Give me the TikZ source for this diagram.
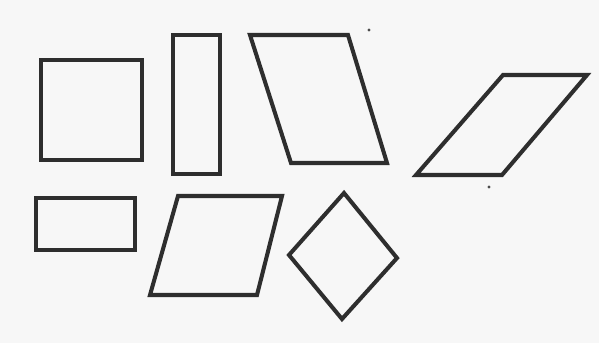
\documentclass[tikz,border=0pt]{standalone}
\usepackage{tikz}

\begin{document}
\begin{tikzpicture}[x=0.02cm,y=-0.02cm,
  outline/.style={draw=black!82,line width=2.3pt},
  speck/.style={fill=black!70}]
\fill[black!3] (0,0) rectangle (599,343);
\useasboundingbox (0,0) rectangle (599,343);

% top row
\draw[outline] (41,60) rectangle (142,160);
\draw[outline] (173,35) rectangle (220,174);
\draw[outline] (250,35) -- (348,35) -- (387,163) -- (291,163) -- cycle;
\draw[outline] (503,75) -- (587,75) -- (502,175) -- (416,175) -- cycle;

% bottom row
\draw[outline] (36,198) rectangle (135,250);
\draw[outline] (178,196) -- (282,196) -- (257,295) -- (150,295) -- cycle;
\draw[outline] (344,193) -- (397,258) -- (342,319) -- (289,255) -- cycle;

% specks of the scan
\fill[speck] (369,30) circle (1.6);
\fill[speck] (489,187) circle (1.6);
\end{tikzpicture}
\end{document}
